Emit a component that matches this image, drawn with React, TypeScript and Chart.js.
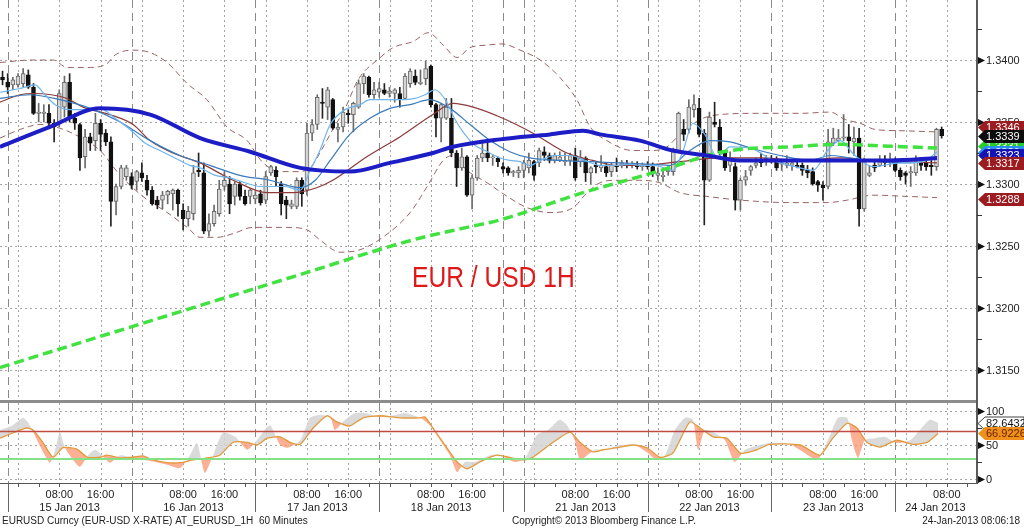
import React, { useEffect, useRef } from 'react';
import { Chart, registerables } from 'chart.js';

Chart.register(...registerables);

// ---------- DATA ----------
// hourly bars, x = hour index (15 Jan 00:00 = 0, weekend compressed)
const candleFirstHour = -3;
const ohlc: [number, number, number, number][] = [
  [1.3386, 1.3391, 1.338, 1.3384], [1.3382, 1.3389, 1.3373, 1.3378], [1.338, 1.3386, 1.3376, 1.3384],
  [1.338, 1.3389, 1.3378, 1.3387], [1.3381, 1.3393, 1.3378, 1.3389], [1.3388, 1.3392, 1.3377, 1.3378],
  [1.3378, 1.3381, 1.3356, 1.3357], [1.3357, 1.3365, 1.335, 1.3358], [1.3357, 1.3364, 1.335, 1.3358],
  [1.3357, 1.3364, 1.3346, 1.3349], [1.3349, 1.3352, 1.3334, 1.3346], [1.3349, 1.3376, 1.3346, 1.3373],
  [1.3362, 1.3387, 1.3354, 1.3382], [1.3382, 1.3389, 1.335, 1.3353], [1.3353, 1.3357, 1.3344, 1.3349],
  [1.3348, 1.3349, 1.3311, 1.3321], [1.3322, 1.3344, 1.3313, 1.3338], [1.3338, 1.3341, 1.3327, 1.3333],
  [1.3335, 1.3357, 1.3327, 1.3349], [1.3349, 1.3352, 1.3327, 1.334], [1.3341, 1.3344, 1.3331, 1.3334],
  [1.3334, 1.3338, 1.3266, 1.3286], [1.3286, 1.33, 1.3275, 1.3298], [1.3298, 1.3315, 1.3296, 1.3313],
  [1.3306, 1.3315, 1.3303, 1.3313], [1.3306, 1.3309, 1.3296, 1.3299], [1.3302, 1.3311, 1.3295, 1.331],
  [1.3309, 1.3317, 1.3302, 1.3305], [1.3303, 1.3307, 1.3291, 1.3295], [1.3295, 1.3298, 1.3283, 1.3284],
  [1.3287, 1.329, 1.328, 1.3283], [1.3287, 1.3294, 1.328, 1.3291], [1.3291, 1.3295, 1.3284, 1.3294],
  [1.3292, 1.3296, 1.3279, 1.3295], [1.3295, 1.3296, 1.3274, 1.3284], [1.3279, 1.3284, 1.3263, 1.3272],
  [1.3272, 1.3282, 1.3266, 1.3278], [1.3276, 1.3315, 1.3271, 1.3309], [1.3311, 1.3325, 1.3306, 1.331],
  [1.3309, 1.3317, 1.326, 1.3262], [1.3262, 1.3276, 1.3258, 1.3268], [1.3268, 1.3283, 1.3266, 1.3278],
  [1.3276, 1.3303, 1.3274, 1.3296], [1.3298, 1.331, 1.3295, 1.3303], [1.33, 1.3306, 1.3276, 1.3284],
  [1.329, 1.3302, 1.3283, 1.33], [1.33, 1.3302, 1.3287, 1.329], [1.329, 1.3295, 1.3283, 1.3284],
  [1.329, 1.3296, 1.3284, 1.3295], [1.3288, 1.3294, 1.3284, 1.3291], [1.3292, 1.3295, 1.3283, 1.3285],
  [1.3287, 1.331, 1.3284, 1.3306], [1.3309, 1.3315, 1.3307, 1.3314], [1.3311, 1.3314, 1.3298, 1.3306],
  [1.33, 1.3302, 1.3275, 1.3284], [1.3287, 1.329, 1.3272, 1.3283], [1.3282, 1.3287, 1.328, 1.3284],
  [1.3282, 1.3305, 1.328, 1.3303], [1.3303, 1.3305, 1.3282, 1.3292], [1.3295, 1.3349, 1.3291, 1.3341],
  [1.3341, 1.3352, 1.3335, 1.3348], [1.3348, 1.3372, 1.3344, 1.337], [1.3366, 1.3377, 1.3353, 1.3365],
  [1.3362, 1.3378, 1.3352, 1.3376], [1.3368, 1.3369, 1.3344, 1.3345], [1.3344, 1.3349, 1.3334, 1.3346],
  [1.3346, 1.3362, 1.3342, 1.3358], [1.3357, 1.336, 1.3349, 1.3356], [1.3356, 1.3366, 1.3342, 1.3365],
  [1.3362, 1.3384, 1.3361, 1.3381], [1.3381, 1.3389, 1.3373, 1.3387], [1.3386, 1.3387, 1.337, 1.3372],
  [1.3372, 1.3382, 1.3369, 1.3376], [1.3374, 1.3382, 1.337, 1.3377], [1.3376, 1.3381, 1.3372, 1.3373],
  [1.3373, 1.3378, 1.337, 1.3375], [1.3373, 1.3377, 1.3366, 1.3376], [1.3373, 1.3378, 1.3362, 1.3368],
  [1.3369, 1.3389, 1.3368, 1.3387], [1.3381, 1.3393, 1.3378, 1.3391], [1.3387, 1.3392, 1.338, 1.3382],
  [1.3381, 1.3392, 1.338, 1.3382], [1.3385, 1.3399, 1.338, 1.3393], [1.3395, 1.3396, 1.3362, 1.3364],
  [1.3364, 1.3365, 1.3338, 1.3353], [1.3353, 1.3365, 1.3334, 1.3364], [1.3353, 1.3369, 1.3352, 1.3362],
  [1.3353, 1.3369, 1.3322, 1.3325], [1.3325, 1.3327, 1.3298, 1.3313], [1.3313, 1.3329, 1.3311, 1.3322],
  [1.3322, 1.3323, 1.329, 1.3291], [1.3291, 1.3307, 1.328, 1.3305], [1.3305, 1.3323, 1.3303, 1.3321],
  [1.3321, 1.3333, 1.3318, 1.3325], [1.3325, 1.3333, 1.3318, 1.3321], [1.3321, 1.3323, 1.3315, 1.3322],
  [1.3321, 1.3322, 1.3314, 1.3318], [1.3314, 1.3317, 1.3309, 1.3312], [1.3313, 1.3314, 1.3307, 1.3309],
  [1.3309, 1.3311, 1.3306, 1.331], [1.3309, 1.3314, 1.3305, 1.3311], [1.3311, 1.3319, 1.3305, 1.3317],
  [1.3313, 1.3325, 1.3309, 1.3319], [1.3318, 1.3319, 1.3303, 1.3307], [1.3317, 1.3329, 1.3314, 1.3327],
  [1.3326, 1.333, 1.3319, 1.3323], [1.3323, 1.3325, 1.3317, 1.3319], [1.3319, 1.3325, 1.3317, 1.3323],
  [1.3319, 1.3326, 1.3318, 1.3322], [1.3318, 1.3325, 1.3315, 1.3319], [1.3319, 1.3325, 1.3315, 1.3323],
  [1.3323, 1.3329, 1.3303, 1.3305], [1.3318, 1.3327, 1.3314, 1.3321], [1.3321, 1.3322, 1.3302, 1.3309],
  [1.3309, 1.3314, 1.33, 1.3313], [1.3315, 1.3318, 1.3309, 1.3314], [1.3313, 1.3323, 1.331, 1.3315],
  [1.3314, 1.3317, 1.3306, 1.3309], [1.331, 1.3317, 1.3306, 1.3315], [1.3315, 1.3321, 1.331, 1.3314],
  [1.3315, 1.3319, 1.3313, 1.3317], [1.3316, 1.3319, 1.3313, 1.3315], [1.3315, 1.3318, 1.3313, 1.3316],
  [1.3315, 1.3318, 1.3312, 1.3314], [1.3314, 1.3317, 1.3311, 1.3315], [1.3315, 1.3318, 1.3312, 1.3314],
  [1.3314, 1.3317, 1.3306, 1.331], [1.3307, 1.3313, 1.3303, 1.3309], [1.3306, 1.3311, 1.3302, 1.3307],
  [1.331, 1.3314, 1.3307, 1.3311], [1.331, 1.3329, 1.3307, 1.3326], [1.3326, 1.3358, 1.3325, 1.3357],
  [1.3344, 1.3352, 1.3335, 1.334], [1.3344, 1.3368, 1.3341, 1.3362], [1.336, 1.3372, 1.3354, 1.3364],
  [1.3361, 1.3369, 1.3338, 1.334], [1.3341, 1.3344, 1.3267, 1.3303], [1.3303, 1.3358, 1.3302, 1.3354],
  [1.335, 1.3366, 1.3346, 1.3348], [1.3346, 1.3352, 1.3322, 1.3325], [1.3325, 1.3326, 1.3311, 1.3313],
  [1.3315, 1.3326, 1.331, 1.3321], [1.3314, 1.3317, 1.3279, 1.3287], [1.3287, 1.3305, 1.3279, 1.3303],
  [1.3303, 1.3311, 1.3299, 1.3306], [1.3311, 1.3315, 1.3307, 1.3314], [1.3315, 1.3321, 1.3313, 1.3317],
  [1.3319, 1.3325, 1.3314, 1.3317], [1.3319, 1.3323, 1.3315, 1.3321], [1.3321, 1.3323, 1.3317, 1.3318],
  [1.3318, 1.3322, 1.3311, 1.3313], [1.3316, 1.3319, 1.3311, 1.3317], [1.3315, 1.3323, 1.3313, 1.3317],
  [1.3315, 1.3319, 1.3311, 1.3317], [1.3315, 1.3318, 1.3313, 1.3314], [1.3315, 1.3317, 1.3307, 1.3311],
  [1.3311, 1.3315, 1.3305, 1.3309], [1.331, 1.3313, 1.3299, 1.33], [1.3302, 1.3303, 1.3294, 1.3299],
  [1.3299, 1.3302, 1.3287, 1.3297], [1.3298, 1.3344, 1.3296, 1.3334], [1.3333, 1.3345, 1.3331, 1.3337],
  [1.3335, 1.3344, 1.3334, 1.3337], [1.3337, 1.3356, 1.3335, 1.3338], [1.3338, 1.3348, 1.3325, 1.3335],
  [1.3334, 1.3346, 1.3323, 1.3337], [1.3337, 1.3345, 1.3266, 1.328], [1.328, 1.3321, 1.3278, 1.3319],
  [1.3307, 1.3315, 1.3306, 1.3309], [1.3315, 1.3318, 1.331, 1.3313], [1.3315, 1.3323, 1.3314, 1.3318],
  [1.3319, 1.3323, 1.3314, 1.3317], [1.3317, 1.3325, 1.3314, 1.3318], [1.3318, 1.3321, 1.331, 1.3311],
  [1.3311, 1.3313, 1.3303, 1.3306], [1.3309, 1.331, 1.33, 1.3307], [1.3309, 1.3314, 1.3298, 1.331],
  [1.3309, 1.3323, 1.3307, 1.3318], [1.3317, 1.3319, 1.3311, 1.3315], [1.3317, 1.3319, 1.3311, 1.3314],
  [1.3315, 1.3319, 1.3307, 1.3314], [1.3314, 1.3345, 1.3311, 1.3344], [1.3344, 1.3346, 1.3337, 1.3339],
];

const ma100: [number, number][] = [
  [-3.5, 1.333], [6.2, 1.3346], [15.9, 1.3361], [25.6, 1.3356], [35.3, 1.3337], [45, 1.3326], [54.7, 1.3313],
  [64.3, 1.331], [72.1, 1.3317], [80.4, 1.3325], [84.3, 1.333], [93.4, 1.3336], [103.1, 1.334], [109.5, 1.3343],
  [112.8, 1.334], [120.5, 1.3335], [126.9, 1.3327], [133.5, 1.3323], [139.9, 1.3319], [149.6, 1.3319],
  [159.3, 1.3319], [169, 1.3319], [178.1, 1.3321],
];
const ma200: [number, number][] = [
  [-3.5, 1.3152], [15.9, 1.3177], [35.3, 1.3202], [54.7, 1.3227], [76.6, 1.3255], [87, 1.3265], [93.4, 1.3271],
  [109.5, 1.3293], [120.5, 1.3306], [127, 1.3314], [133.5, 1.3323], [140, 1.3328], [149.6, 1.333],
  [159.3, 1.3332], [165.7, 1.3331], [178.1, 1.3329],
];
const bbUpper: [number, number][] = [
  [-3.5, 1.3398], [2.9, 1.34], [6.8, 1.34], [9.5, 1.3394], [14, 1.3394], [17.2, 1.3397], [18.8, 1.3404],
  [22.3, 1.3408], [25.6, 1.3406], [28.9, 1.3398], [32.8, 1.3381], [36.6, 1.3368], [40.5, 1.3346], [44.4, 1.3335],
  [47.3, 1.3318], [50.8, 1.331], [54.7, 1.331], [57, 1.3315], [58.5, 1.3325], [61, 1.3344], [63.4, 1.3361],
  [65.9, 1.3384], [70.2, 1.3402], [72.7, 1.341], [76.6, 1.3415], [79.5, 1.3422], [82.4, 1.3412], [85.1, 1.3402],
  [87.6, 1.341], [90.9, 1.3412], [93.8, 1.3413], [97.3, 1.3408], [101.2, 1.34], [105, 1.3386], [108.3, 1.3368],
  [110.9, 1.3346], [114.1, 1.3335], [119.2, 1.3327], [122.5, 1.3327], [125.4, 1.3329], [128.3, 1.334],
  [132.2, 1.3352], [136, 1.3356], [143.8, 1.3357], [151.6, 1.3357], [157.4, 1.3358], [160.3, 1.3352],
  [163.2, 1.3349], [166.1, 1.3344], [170.9, 1.3343], [178.1, 1.3342],
];
const bbLower: [number, number][] = [
  [-3.5, 1.3337], [0.4, 1.3344], [4.3, 1.3348], [8.1, 1.3345], [11, 1.334], [15.9, 1.3327], [19.8, 1.3307],
  [24.2, 1.329], [28.9, 1.3277], [32.8, 1.3265], [35.3, 1.3257], [38.6, 1.3257], [41.7, 1.326], [45.5, 1.3265],
  [52.1, 1.3265], [56, 1.3263], [58.5, 1.3255], [62.4, 1.3245], [66.3, 1.3247], [70.7, 1.3257], [76, 1.3277],
  [79.3, 1.3298], [82.4, 1.3319], [84.3, 1.3323], [87, 1.3311], [90.9, 1.3301], [94.8, 1.329], [98.6, 1.3281],
  [103.1, 1.3277], [107.6, 1.3281], [110.3, 1.3293], [112.8, 1.3301], [116.1, 1.3303], [120.5, 1.3303],
  [124.4, 1.3301], [128.3, 1.3293], [133.5, 1.329], [140, 1.3287], [149.6, 1.3285], [156.8, 1.3285],
  [160.7, 1.3287], [165.7, 1.3291], [172.3, 1.329], [178.1, 1.3289],
];
const ma20: [number, number][] = [
  [-3.5, 1.3366], [0.4, 1.3372], [2.9, 1.3373], [9.5, 1.3369], [12.6, 1.3362], [17.8, 1.3356], [22.3, 1.3348],
  [25.6, 1.3335], [30, 1.3325], [35.3, 1.3317], [41.7, 1.3303], [48.3, 1.3293], [53.3, 1.3293], [57.9, 1.3297],
  [61, 1.3303], [67.6, 1.3322], [74, 1.3338], [80.4, 1.3356], [84.3, 1.3365], [88.2, 1.3362], [93.4, 1.3354],
  [99.8, 1.3341], [106.4, 1.3325], [111.4, 1.3319], [116.1, 1.3315], [120.5, 1.3315], [128.3, 1.3318],
  [136, 1.3321], [143.8, 1.3321], [151.6, 1.3319], [159.3, 1.3321], [165.1, 1.3319], [170.9, 1.3318],
  [178.1, 1.3317],
];
const ma5: [number, number][] = [
  [-3.5, 1.3374], [0.4, 1.3377], [3.3, 1.338], [5.2, 1.3372], [7.2, 1.3364], [10.1, 1.336], [13, 1.336],
  [15.9, 1.3361], [18.8, 1.3353], [21.7, 1.3344], [24.6, 1.3333], [27.5, 1.3327], [30.4, 1.3321], [33.3, 1.3315],
  [35.3, 1.3313], [38.2, 1.3307], [41.1, 1.3305], [44, 1.3301], [46.9, 1.3298], [48.8, 1.3298], [51.7, 1.3298],
  [54.7, 1.3295], [56.6, 1.3311], [58.5, 1.3327], [60.5, 1.3348], [63.4, 1.336], [66.3, 1.3364], [68.2, 1.3368],
  [71.1, 1.3368], [74, 1.3368], [76.9, 1.3369], [78.9, 1.3372], [80.8, 1.3376], [82.8, 1.3368], [84.7, 1.3352],
  [86.6, 1.334], [88.6, 1.3331], [90.5, 1.3327], [93.4, 1.3321], [95.3, 1.3319], [97.3, 1.3318], [99.2, 1.3315],
  [101.2, 1.3319], [104.1, 1.3323], [107, 1.3323], [109.9, 1.3319], [112.8, 1.3315], [115.7, 1.3315],
  [118.6, 1.3316], [120.5, 1.3315], [123.4, 1.3315], [126.9, 1.3311], [128.9, 1.3327], [130.8, 1.3349],
  [133.1, 1.334], [135.5, 1.3322], [138, 1.333], [141.9, 1.3329], [146.3, 1.3319], [150.6, 1.3314],
  [154.1, 1.3311], [156.9, 1.3327], [159.3, 1.3335], [162.2, 1.3323], [165.7, 1.3314], [170.9, 1.3317],
  [175.4, 1.3318], [178.1, 1.3326],
];
const ma10: [number, number][] = [
  [-3.5, 1.3369], [2.3, 1.3372], [8.1, 1.3368], [14, 1.3361], [19.8, 1.335], [25.6, 1.3335], [31.4, 1.3323],
  [37.2, 1.3315], [43, 1.3307], [48.8, 1.3303], [54.7, 1.3297], [57.6, 1.3303], [60.5, 1.3319], [64.3, 1.334],
  [68.2, 1.3353], [72.1, 1.3361], [76, 1.3364], [79.8, 1.3368], [83.7, 1.3361], [87.6, 1.3348], [91.5, 1.3335],
  [95.3, 1.3326], [99.2, 1.3321], [105, 1.3319], [110.9, 1.3318], [116.7, 1.3317], [122.5, 1.3316],
  [126.4, 1.3315], [130.2, 1.3327], [134.1, 1.3335], [138, 1.3334], [141.9, 1.3329], [147.7, 1.3323],
  [153.5, 1.3319], [157.4, 1.3323], [161.2, 1.3321], [167.1, 1.3318], [172.9, 1.3317], [178.1, 1.3321],
];
const rsiSlow: [number, number][] = [
  [-3.5, 60], [-0.9, 68], [1.7, 75], [2.9, 72], [4.8, 54], [6.8, 32], [8.7, 46], [11.4, 44], [13.4, 32],
  [15.9, 32], [17.2, 35], [19.8, 31], [22.3, 32], [24.2, 34], [26.2, 28], [28.9, 24], [31.4, 24], [33.9, 28],
  [36.6, 31], [39.1, 35], [41.7, 54], [44.4, 54], [46.3, 50], [48.3, 60], [50.8, 62], [52.7, 54], [54.7, 51],
  [57.2, 75], [59.9, 93], [61.8, 84], [64.3, 78], [66.9, 90], [70.2, 93], [74, 90], [77.9, 90], [78.9, 91],
  [80.4, 75], [83.1, 46], [85.1, 25], [87, 15], [89.5, 25], [92.8, 35], [97.9, 28], [99.8, 32], [103.7, 54],
  [107, 69], [108.9, 54], [111.4, 40], [113.4, 43], [116.1, 46], [119.2, 50], [121.9, 46], [124.4, 32],
  [126.9, 38], [130.2, 84], [132.2, 75], [134.7, 62], [137.4, 60], [140, 38], [143.2, 43], [145.7, 51],
  [151.6, 50], [155.4, 35], [157.9, 60], [160.7, 82], [162.6, 75], [164.5, 54], [167.1, 47], [170.3, 57],
  [173.4, 51], [176.2, 54], [178.3, 66.9226],
];
const rsiFast: [number, number][] = [
  [-3.5, 72], [-1, 79], [1, 90], [2.3, 79], [3.7, 57], [5.2, 35], [6.2, 24], [7.2, 43], [8.1, 69], [9.1, 46],
  [10.7, 28], [12, 18], [13.6, 35], [14.9, 43], [16.3, 35], [17.8, 24], [19.8, 35], [22.3, 31], [24.6, 28],
  [26.6, 25], [28.9, 21], [31.4, 16], [33.3, 35], [34.7, 53], [36.2, 9], [37.8, 35], [39.7, 68], [42.1, 62],
  [44.4, 43], [46.3, 57], [48.8, 79], [50.8, 50], [52.3, 46], [54.7, 57], [56.6, 90], [58.5, 94], [60.5, 91],
  [61.4, 72], [63.4, 87], [65.3, 97], [67.2, 97], [70.2, 91], [73.1, 94], [75, 97], [77.9, 90], [79.8, 79],
  [81.8, 57], [83.7, 35], [85.1, 10], [86.6, 25], [88.6, 25], [91.5, 35], [93.4, 35], [96.3, 25], [98.3, 31],
  [100.6, 65], [102.7, 72], [105, 87], [106.4, 79], [107.9, 57], [108.9, 28], [110.3, 35], [111.8, 43],
  [113.8, 43], [116.7, 50], [119.6, 50], [122.1, 38], [123.8, 28], [125.4, 35], [127.3, 72], [129.3, 90],
  [130.8, 87], [131.8, 43], [133.1, 72], [134.7, 69], [137, 57], [138.9, 25], [140.9, 43], [143.2, 49],
  [145.7, 53], [149.6, 51], [152.5, 38], [155, 28], [157.4, 65], [158.9, 90], [160.7, 90], [161.6, 57],
  [162.8, 31], [164.1, 57], [166.1, 60], [168, 62], [170.3, 53], [172.9, 57], [174.8, 72], [176.7, 87],
  [178.3, 82.6432],
];

const priceMajorTicks = [1.315, 1.32, 1.325, 1.33, 1.335, 1.34];
const priceMinorTicks = [1.3175, 1.3225, 1.3275, 1.3325, 1.3375, 1.3425];
const rsiMajorTicks = [0, 50, 100];
const rsiMinorTicks = [25, 75];
const rsiUpperLevel = 70;
const rsiLowerLevel = 30;

const gridHours = [0, 8, 16, 24, 32, 40, 48, 56, 64, 72, 80, 88, 100, 108, 116, 124, 132, 140, 148, 156, 164, 172, 180];
const dayStarts = [-2, 22, 46, 70, 94, 98, 122, 146, 170];
const smallTickHours = [
  0, 4, 8, 12, 16, 20, 24, 28, 32, 36, 40, 44, 48, 52, 56, 60, 64, 68, 72, 76, 80, 84, 88, 92,
  100, 104, 108, 112, 116, 120, 124, 128, 132, 136, 140, 144, 148, 152, 156, 160, 164, 168, 172, 176, 180, 184,
];
const timeLabels: [number, string][] = [
  [8, '08:00'], [16, '16:00'], [32, '08:00'], [40, '16:00'], [56, '08:00'], [64, '16:00'], [80, '08:00'], [88, '16:00'],
  [108, '08:00'], [116, '16:00'], [132, '08:00'], [140, '16:00'], [156, '08:00'], [164, '16:00'], [180, '08:00'],
];
const dateLabels: [number, string][] = [
  [10, '15 Jan 2013'], [34, '16 Jan 2013'], [58, '17 Jan 2013'], [82, '18 Jan 2013'],
  [110, '21 Jan 2013'], [134, '22 Jan 2013'], [158, '23 Jan 2013'], [177.8, '24 Jan 2013'],
];

const priceTags = [
  { value: 1.3288, bg: '#9a1b20', fg: '#ffffff' },
  { value: 1.3346, bg: '#9a1b20', fg: '#ffffff' },
  { value: 1.3331, bg: '#27cc2a', fg: '#ffffff' },
  { value: 1.3326, bg: '#2b8ff0', fg: '#ffffff' },
  { value: 1.3323, bg: '#1414b4', fg: '#ffffff' },
  { value: 1.3317, bg: '#9a1b20', fg: '#ffffff' },
  { value: 1.3339, bg: '#0c0c0c', fg: '#ffffff' },
];
const rsiTags = [
  { value: 82.6432, bg: '#ffffff', fg: '#111111', stroke: '#444444' },
  { value: 66.9226, bg: '#f0901c', fg: '#6a2400', stroke: '' },
];

const chartTitle = 'EUR / USD 1H';
const footerLeft = 'EURUSD Curncy (EUR-USD X-RATE) AT_EURUSD_1H  60 Minutes';
const footerMid = 'Copyright\u00A9 2013 Bloomberg Finance L.P.';
const footerRight = '24-Jan-2013 08:06:18';

const xMin = -3.49;
const xMax = 185.85;
const priceMin = 1.31266;
const priceMax = 1.34484;
const rsiMin = -5.88;
const rsiMax = 111.76;

// ---------- HELPERS ----------
const FONT = '"Liberation Sans", Arial, sans-serif';
const AXIS_X = 977;

function toXY(arr: [number, number][]) {
  return arr.map(([x, y]) => ({ x, y }));
}

function hline(ctx: any, x1: number, x2: number, y: number) {
  ctx.beginPath();
  ctx.moveTo(x1, y);
  ctx.lineTo(x2, y);
  ctx.stroke();
}
function vline(ctx: any, x: number, y1: number, y2: number) {
  ctx.beginPath();
  ctx.moveTo(x, y1);
  ctx.lineTo(x, y2);
  ctx.stroke();
}

function drawGrid(chart: any, majors: number[]) {
  const { ctx, chartArea: a, scales } = chart;
  const x = scales.x;
  const y = scales.y;
  ctx.save();
  ctx.lineWidth = 1;
  ctx.strokeStyle = '#a4a4a4';
  ctx.setLineDash([2, 3]);
  for (const v of majors) {
    const py = Math.round(y.getPixelForValue(v)) + 0.5;
    hline(ctx, a.left, a.right, py);
  }
  for (const h of gridHours) {
    const px = Math.round(x.getPixelForValue(h)) + 0.5;
    vline(ctx, px, a.top, a.bottom);
  }
  ctx.strokeStyle = '#8a8a8a';
  ctx.setLineDash([8, 5]);
  for (const h of dayStarts) {
    const px = Math.round(x.getPixelForValue(h)) + 0.5;
    vline(ctx, px, a.top, a.bottom);
  }
  ctx.restore();
}

function drawTag(ctx: any, y: number, text: string, bg: string, fg: string, stroke: string) {
  ctx.beginPath();
  ctx.moveTo(AXIS_X + 1, y);
  ctx.lineTo(AXIS_X + 8, y - 6.5);
  ctx.lineTo(1024, y - 6.5);
  ctx.lineTo(1024, y + 6.5);
  ctx.lineTo(AXIS_X + 8, y + 6.5);
  ctx.closePath();
  ctx.fillStyle = bg;
  ctx.fill();
  if (stroke) {
    ctx.strokeStyle = stroke;
    ctx.lineWidth = 1;
    ctx.stroke();
  }
  ctx.fillStyle = fg;
  ctx.font = '11px ' + FONT;
  ctx.textAlign = 'left';
  ctx.textBaseline = 'middle';
  ctx.fillText(text, AXIS_X + 9, y + 0.5);
}

function drawRightAxis(chart: any, majors: number[], minors: number[], fmt: (v: number) => string, y1: number, y2: number) {
  const { ctx, scales } = chart;
  const y = scales.y;
  ctx.save();
  ctx.strokeStyle = '#5a5a5a';
  ctx.lineWidth = 2;
  vline(ctx, AXIS_X, y1, y2);
  ctx.lineWidth = 1;
  ctx.strokeStyle = '#333';
  for (const v of minors) {
    const py = Math.round(y.getPixelForValue(v)) + 0.5;
    hline(ctx, AXIS_X, AXIS_X + 5, py);
  }
  ctx.font = '11px ' + FONT;
  ctx.textAlign = 'left';
  ctx.textBaseline = 'middle';
  for (const v of majors) {
    const py = Math.round(y.getPixelForValue(v)) + 0.5;
    ctx.fillStyle = '#111';
    ctx.beginPath();
    ctx.moveTo(AXIS_X + 1, py - 3.5);
    ctx.lineTo(AXIS_X + 8, py);
    ctx.lineTo(AXIS_X + 1, py + 3.5);
    ctx.closePath();
    ctx.fill();
    ctx.fillStyle = '#222';
    ctx.fillText(fmt(v), AXIS_X + 9, py + 0.5);
  }
  ctx.restore();
}

const topDecor = {
  id: 'topDecor',
  beforeDatasetsDraw(chart: any) {
    drawGrid(chart, priceMajorTicks);
  },
  afterDraw(chart: any) {
    const { ctx, scales } = chart;
    drawRightAxis(chart, priceMajorTicks, priceMinorTicks, (v) => v.toFixed(4), 0, chart.height);
    ctx.save();
    for (const t of priceTags) {
      drawTag(ctx, Math.round(scales.y.getPixelForValue(t.value)) + 0.5, t.value.toFixed(4), t.bg, t.fg, '');
    }
    // title
    ctx.translate(412, 287);
    ctx.scale(0.82, 1);
    ctx.font = '30px ' + FONT;
    ctx.fillStyle = '#e01818';
    ctx.textAlign = 'left';
    ctx.textBaseline = 'alphabetic';
    ctx.fillText(chartTitle, 0, 0);
    ctx.restore();
  },
};

const bottomDecor = {
  id: 'bottomDecor',
  beforeDatasetsDraw(chart: any) {
    drawGrid(chart, rsiMajorTicks);
  },
  afterDatasetsDraw(chart: any) {
    const { ctx, chartArea: a, scales } = chart;
    ctx.save();
    ctx.lineWidth = 1.3;
    ctx.strokeStyle = '#c24a44';
    hline(ctx, a.left, a.right, Math.round(scales.y.getPixelForValue(rsiUpperLevel)) + 0.5);
    ctx.lineWidth = 2;
    ctx.strokeStyle = '#86e086';
    hline(ctx, a.left, a.right, Math.round(scales.y.getPixelForValue(rsiLowerLevel)));
    ctx.restore();
  },
  afterDraw(chart: any) {
    const { ctx, chartArea: a, scales } = chart;
    const x = scales.x;
    ctx.save();
    // separator between panels
    ctx.fillStyle = '#8c8c8c';
    ctx.fillRect(0, 0, AXIS_X, 3);
    // bottom axis line
    ctx.strokeStyle = '#555';
    ctx.lineWidth = 1;
    hline(ctx, 0, AXIS_X, a.bottom + 0.5);
    for (const h of smallTickHours) {
      const px = Math.round(x.getPixelForValue(h)) + 0.5;
      if (px < AXIS_X) vline(ctx, px, a.bottom, a.bottom + 4);
    }
    ctx.strokeStyle = '#666';
    for (const h of dayStarts) {
      const px = Math.round(x.getPixelForValue(h)) + 0.5;
      vline(ctx, px, a.bottom, a.bottom + 29);
    }
    ctx.fillStyle = '#222';
    ctx.font = '11px ' + FONT;
    ctx.textAlign = 'center';
    ctx.textBaseline = 'alphabetic';
    for (const [h, t] of timeLabels) ctx.fillText(t, x.getPixelForValue(h), a.bottom + 15);
    for (const [h, t] of dateLabels) ctx.fillText(t, x.getPixelForValue(h), a.bottom + 28);
    ctx.font = '10px ' + FONT;
    ctx.textAlign = 'left';
    ctx.fillText(footerLeft, 2, a.bottom + 41);
    ctx.fillText(footerMid, 512, a.bottom + 41);
    ctx.textAlign = 'right';
    ctx.fillText(footerRight, 1020, a.bottom + 41);
    ctx.restore();
    drawRightAxis(chart, rsiMajorTicks, rsiMinorTicks, (v) => String(v), 0, a.bottom + 1);
    ctx.save();
    for (const t of rsiTags) {
      drawTag(ctx, Math.round(scales.y.getPixelForValue(t.value)) + 0.5, t.value.toFixed(4), t.bg, t.fg, t.stroke);
    }
    ctx.restore();
  },
};

function lineDs(data: [number, number][], color: string, width: number, order: number, dash?: number[]) {
  return {
    type: 'line',
    data: toXY(data),
    borderColor: color,
    borderWidth: width,
    borderDash: dash || [],
    pointRadius: 0,
    tension: 0.4,
    cubicInterpolationMode: 'monotone',
    fill: false,
    order,
  };
}

export default function App() {
  const topRef = useRef<HTMLCanvasElement>(null);
  const botRef = useRef<HTMLCanvasElement>(null);

  useEffect(() => {
    document.body.style.margin = '0';
    const hours = ohlc.map((_, i) => candleFirstHour + i);
    const up = ohlc.map((c) => c[3] >= c[0]);
    const bodyData = ohlc.map((c, i) => ({ x: hours[i], y: [c[0], c[3]] }));
    const wickData = ohlc.map((c, i) => ({ x: hours[i], y: [c[2], c[1]] }));

    const top = new Chart(topRef.current as HTMLCanvasElement, {
      type: 'bar',
      data: {
        datasets: [
          lineDs(ma100, '#1d1dc6', 4, 0),
          lineDs(ma200, '#3fe23f', 3.5, 1, [10, 5]),
          lineDs(ma5, '#70b4ec', 1.2, 2),
          lineDs(ma10, '#3b7bbb', 1.2, 3),
          lineDs(ma20, '#8e3a3a', 1.2, 4),
          {
            type: 'bar',
            data: bodyData,
            backgroundColor: up.map((u) => (u ? '#d4d4d4' : '#111111')),
            borderColor: up.map((u) => (u ? '#6a6a6a' : '#111111')),
            borderWidth: 1,
            borderSkipped: false,
            barThickness: 4,
            grouped: false,
            order: 5,
          },
          {
            type: 'bar',
            data: wickData,
            backgroundColor: up.map((u) => (u ? '#6a6a6a' : '#222222')),
            borderWidth: 0,
            barThickness: 1,
            grouped: false,
            order: 6,
          },
          lineDs(bbUpper, '#9a6464', 1, 7, [6, 4]),
          lineDs(bbLower, '#9a6464', 1, 8, [6, 4]),
        ] as any,
      },
      options: {
        responsive: false,
        animation: false,
        events: [],
        layout: { padding: { left: 0, right: 1024 - AXIS_X, top: 0, bottom: 1 } },
        plugins: { legend: { display: false }, tooltip: { enabled: false } },
        scales: {
          x: { type: 'linear', min: xMin, max: xMax, display: false, offset: false, grid: { display: false } },
          y: { type: 'linear', min: priceMin, max: priceMax, display: false, grid: { display: false } },
        },
      } as any,
      plugins: [topDecor],
    });

    const bot = new Chart(botRef.current as HTMLCanvasElement, {
      type: 'line',
      data: {
        datasets: [
          {
            data: toXY(rsiSlow),
            borderColor: '#e3993c',
            borderWidth: 1.3,
            pointRadius: 0,
            tension: 0.2,
            fill: false,
            order: 0,
          },
          {
            data: toXY(rsiFast),
            borderColor: 'rgba(0,0,0,0)',
            borderWidth: 0,
            pointRadius: 0,
            tension: 0.2,
            fill: { target: 0, above: 'rgba(212,212,212,0.85)', below: 'rgba(249,150,112,0.75)' },
            order: 1,
          },
        ] as any,
      },
      options: {
        responsive: false,
        animation: false,
        events: [],
        layout: { padding: { left: 0, right: 1024 - AXIS_X, top: 3, bottom: 45 } },
        plugins: { legend: { display: false }, tooltip: { enabled: false } },
        scales: {
          x: { type: 'linear', min: xMin, max: xMax, display: false, grid: { display: false } },
          y: { type: 'linear', min: rsiMin, max: rsiMax, display: false, grid: { display: false } },
        },
      } as any,
      plugins: [bottomDecor],
    });

    return () => {
      top.destroy();
      bot.destroy();
    };
  }, []);

  return (
    <div style={{ position: 'relative', width: 1024, height: 528, background: '#ffffff', overflow: 'hidden' }}>
      <canvas ref={topRef} width={1024} height={400} style={{ position: 'absolute', left: 0, top: 0 }} />
      <canvas ref={botRef} width={1024} height={128} style={{ position: 'absolute', left: 0, top: 400 }} />
    </div>
  );
}
